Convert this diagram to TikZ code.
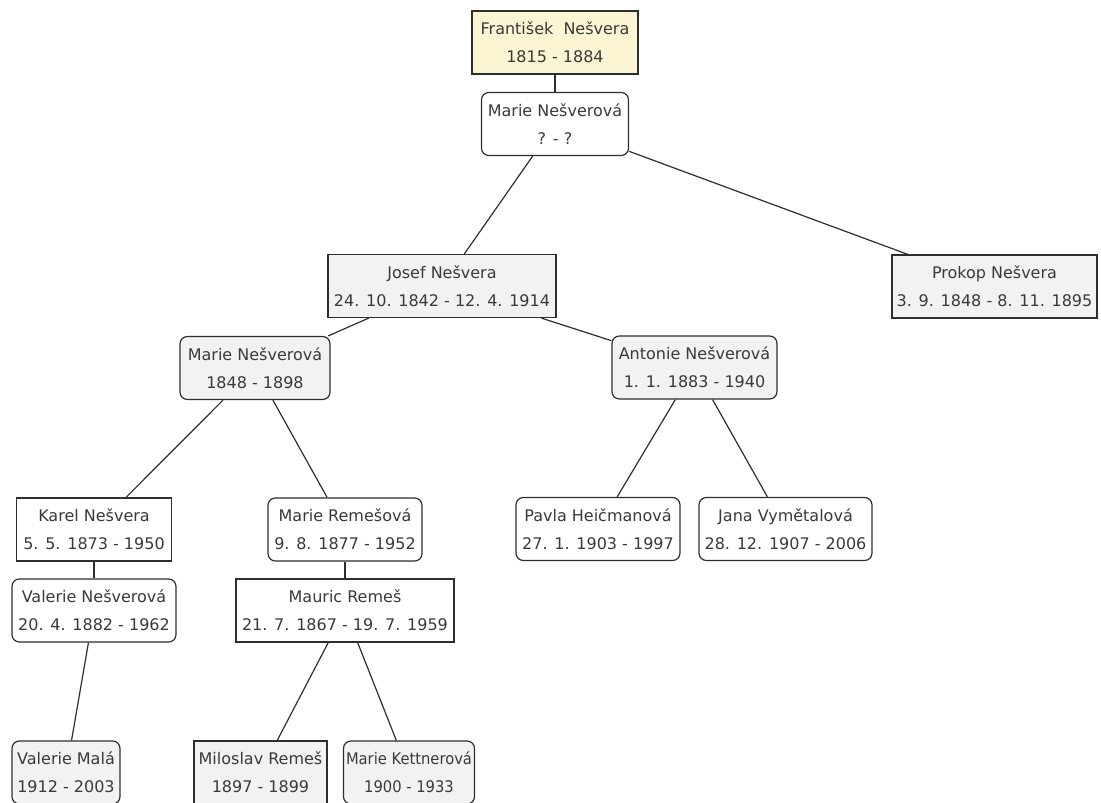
\documentclass[tikz,border=0pt]{standalone}
\usepackage{fontspec}
\setmainfont{DejaVu Sans}
\usepackage{tikz}

\definecolor{zluta}{HTML}{FBF5D3}
\definecolor{seda}{HTML}{F2F2F2}
\definecolor{linka}{HTML}{2E2E2E}
\definecolor{pismo}{HTML}{3A3A3A}

\begin{document}
\begin{tikzpicture}[
    x=0.75pt, y=-0.75pt,
    every node/.style={align=center, inner sep=0pt, minimum height=47.25pt,
        font=\fontsize{12}{21}\selectfont, text=pismo},
    osoba/.style={draw=linka, line width=0.9pt, fill=white},
    muz/.style={osoba, rectangle},
    zena/.style={osoba, rounded corners=5.5pt},
    sedy/.style={fill=seda},
    sirka/.style={minimum width=0.75pt*#1},
    spoj/.style={draw=linka, line width=0.9pt}
    ]

\useasboundingbox (0,0) rectangle (1101,803);

% koren
\node[muz, fill=zluta, sirka=166] (frantisek) at (555,42.5) {František~ Nešvera\\1815 - 1884};
\node[zena, sirka=147] (marie1) at (555,124) {Marie Nešverová\\? - ?};

% deti
\node[muz, sedy, sirka=228] (josef) at (442,286) {Josef Nešvera\\24. 10. 1842 - 12. 4. 1914};
\node[muz, sedy, sirka=205] (prokop) at (994.5,286.5) {Prokop Nešvera\\3. 9. 1848 - 8. 11. 1895};

% vnuci, leva vetev
\node[zena, sedy, sirka=150] (marie2) at (255,368) {Marie Nešverová\\1848 - 1898};
\node[muz, sirka=155] (karel) at (94,529.5) {Karel Nešvera\\5. 5. 1873 - 1950};
\node[zena, sirka=164] (valerie) at (94,610.5) {Valerie Nešverová\\20. 4. 1882 - 1962};
\node[zena, sedy, sirka=108] (mala) at (66,772.5) {Valerie Malá\\1912 - 2003};
\node[zena, sirka=154] (remesova) at (345,529.5) {Marie Remešová\\9. 8. 1877 - 1952};
\node[muz, sirka=218] (mauric) at (345,610.5) {Mauric Remeš\\21. 7. 1867 - 19. 7. 1959};
\node[muz, sedy, sirka=133] (miloslav) at (260.5,772.5) {Miloslav Remeš\\1897 - 1899};
\node[zena, sedy, sirka=131, font=\fontsize{12}{21}\selectfont\addfontfeature{FakeStretch=0.92}]
    (kettnerova) at (409,772.5) {Marie Kettnerová\\1900 - 1933};

% vnuci, prava vetev
\node[zena, sedy, sirka=165] (antonie) at (694.5,367.5) {Antonie Nešverová\\1. 1. 1883 - 1940};
\node[zena, sirka=164] (pavla) at (598,529) {Pavla Heičmanová\\27. 1. 1903 - 1997};
\node[zena, sirka=173] (jana) at (785.5,529) {Jana Vymětalová\\28. 12. 1907 - 2006};

% spoje
\draw[spoj] (frantisek) -- (marie1);
\draw[spoj] (marie1) -- (josef);
\draw[spoj] (marie1) -- (prokop);
\draw[spoj] (josef) -- (marie2);
\draw[spoj] (josef) -- (antonie);
\draw[spoj] (marie2) -- (karel);
\draw[spoj] (marie2) -- (remesova);
\draw[spoj] (karel) -- (valerie);
\draw[spoj] (valerie) -- (mala);
\draw[spoj] (remesova) -- (mauric);
\draw[spoj] (mauric) -- (miloslav);
\draw[spoj] (mauric) -- (kettnerova);
\draw[spoj] (antonie) -- (pavla);
\draw[spoj] (antonie) -- (jana);
\end{tikzpicture}
\end{document}
